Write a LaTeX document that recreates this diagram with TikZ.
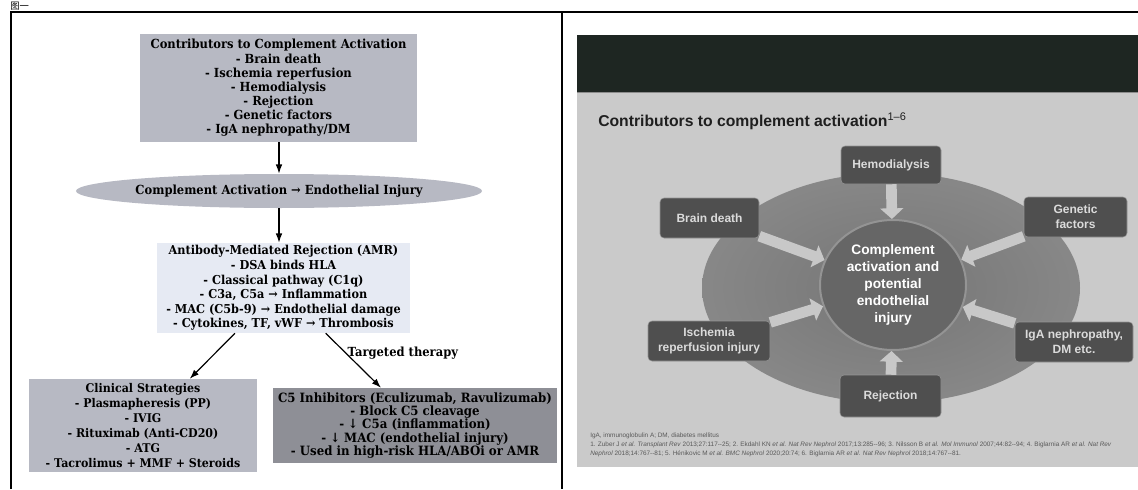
\documentclass[tikz,border=0pt]{standalone}
\usepackage{fontspec}
\setmainfont{DejaVu Serif}
\newfontfamily\flowfont[FakeStretch=0.92]{DejaVu Serif}
\newfontfamily\slidefont{Liberation Sans}
\newfontfamily\cjkfont{Noto Sans CJK SC}
\usetikzlibrary{arrows.meta,positioning,shapes.geometric}

\definecolor{boxgray}{HTML}{B7B9C3}
\definecolor{amrblue}{HTML}{E6EAF3}
\definecolor{inhgray}{HTML}{8E8F96}
\definecolor{bandgreen}{HTML}{1E2622}
\definecolor{slidegray}{HTML}{CACACA}
\definecolor{tilegray}{HTML}{4F4F4F}
\definecolor{spokegray}{HTML}{C8C8C8}

\pgfdeclareradialshading{halo}{\pgfpoint{0bp}{0bp}}{%
  color(0bp)=(black!54); color(28bp)=(black!46); color(42bp)=(black!37); color(50bp)=(black!26)}

\begin{document}
\begin{tikzpicture}[
  x=0.75pt, y=-0.75pt,
  flow/.style={font=\flowfont\bfseries\fontsize{9.4}{10.6}\selectfont, align=center, inner sep=0pt},
  cbox/.style={flow, fill=boxgray},
  arr/.style={-{Latex[length=7pt, width=5pt]}, line width=0.9pt, draw=black},
  lab/.style={flow, inner sep=1pt},
  tile/.style={draw=black!42, fill=tilegray, rounded corners=3pt, text=white!86!black,
               font=\slidefont\bfseries\fontsize{9}{11}\selectfont, align=center, inner sep=0pt},
  hub/.style={ellipse, fill=black!60, draw=black!42, line width=1.5pt, text=white,
              font=\slidefont\bfseries\fontsize{10.3}{12.8}\selectfont, align=center, inner sep=0pt},
  spoke/.style={draw=spokegray, line width=8pt, -{Triangle[length=8pt 0 0, width=17pt 0 0]}}
]
\useasboundingbox (0,0) rectangle (1138,489);

% ---------------- caption and frame ----------------
\node[anchor=west, font=\cjkfont\fontsize{7}{8}\selectfont, inner sep=0pt] (fig) at (10,6) {图一};
\draw[line width=1.2pt] (11,489) -- (11,12) -- (1138,12);
\draw[line width=1.2pt] (562,12) -- (562,489);

% ---------------- left: flow chart ----------------
\node[cbox, minimum width=207.75pt, minimum height=81pt] (contrib) at (278.5,88)
  {Contributors to Complement Activation\\- Brain death\\- Ischemia reperfusion\\- Hemodialysis\\- Rejection\\- Genetic factors\\- IgA nephropathy/DM};
\node[cbox, ellipse, minimum width=302pt, minimum height=25.5pt] (cact) at (279,191)
  {Complement Activation → Endothelial Injury};
\node[flow, fill=amrblue, minimum width=189.75pt, minimum height=67.5pt,
      font=\flowfont\bfseries\fontsize{9.2}{10.9}\selectfont] (amr) at (283.5,288)
  {Antibody-Mediated Rejection (AMR)\\- DSA binds HLA\\- Classical pathway (C1q)\\- C3a, C5a → Inflammation\\- MAC (C5b-9) → Endothelial damage\\- Cytokines, TF, vWF → Thrombosis};
\node[cbox, minimum width=171pt, minimum height=69.75pt,
      font=\flowfont\bfseries\fontsize{9}{11.2}\selectfont] (clin) at (143,425.5)
  {Clinical Strategies\\- Plasmapheresis (PP)\\- IVIG\\- Rituximab (Anti-CD20)\\- ATG\\- Tacrolimus + MMF + Steroids};
\node[flow, fill=inhgray, minimum width=213pt, minimum height=56.25pt,
      font=\flowfont\bfseries\fontsize{9.6}{10}\selectfont] (c5) at (415,425.5)
  {C5 Inhibitors (Eculizumab, Ravulizumab)\\- Block C5 cleavage\\- ↓ C5a (inflammation)\\- ↓ MAC (endothelial injury)\\- Used in high-risk HLA/ABOi or AMR};

\draw[arr] (contrib.south -| cact) -- (cact.north);
\draw[arr] (cact.south) -- (cact.south |- amr.north);
\draw[arr] (amr.223) -- (clin.45);
\draw[arr] (amr.313) -- node[lab, pos=0.36, anchor=west] {Targeted therapy} (c5.132);

% ---------------- right: slide ----------------
\fill[bandgreen] (577,35) rectangle (1138,92);
\fill[slidegray] (577,92) rectangle (1138,467);
\draw[black!45, line width=1pt] (577,92.5) -- (1138,92.5);
\node[anchor=west, inner sep=0pt, text=black!88,
      font=\slidefont\bfseries\fontsize{11.8}{13}\selectfont] (title) at (598,121)
  {Contributors to complement activation\textsuperscript{\mdseries 1–6}};

\shade[shading=halo] (891,288) ellipse [x radius=189, y radius=115];

\node[hub, minimum width=109.5pt, minimum height=97.5pt] (core) at (893,285)
  {Complement\\activation and\\potential\\endothelial\\injury};
\node[tile, minimum width=75pt, minimum height=28.5pt] (hemo) at (891,165) {Hemodialysis};
\node[tile, minimum width=74.25pt, minimum height=30pt] (brain) at (709.5,218) {Brain death};
\node[tile, minimum width=77.25pt, minimum height=30pt] (gene) at (1075.5,217) {Genetic\\factors};
\node[tile, minimum width=91.5pt, minimum height=30pt] (isch) at (709,341) {Ischemia\\reperfusion injury};
\node[tile, minimum width=88.5pt, minimum height=30pt] (iga) at (1074,342) {IgA nephropathy,\\DM etc.};
\node[tile, minimum width=75.75pt, minimum height=31.5pt] (rej) at (890.5,396) {Rejection};

\draw[spoke] (hemo) -- (core);
\draw[spoke] (brain) -- (core);
\draw[spoke] (gene) -- (core);
\draw[spoke] (isch) -- (core);
\draw[spoke] (iga) -- (core);
\draw[spoke] (rej) -- (core);

\node[anchor=north west, align=left, inner sep=0pt, text=black!65,
      font=\slidefont\fontsize{4.8}{6.6}\selectfont] (notes) at (590,433)
  {IgA, immunoglobulin A; DM, diabetes mellitus\\
   1. Zuber J \textit{et al. Transplant Rev} 2013;27:117--25; 2. Ekdahl KN \textit{et al. Nat Rev Nephrol} 2017;13:285--96; 3. Nilsson B \textit{et al. Mol Immunol} 2007;44:82--94; 4. Biglarnia AR \textit{et al. Nat Rev}\\
   \textit{Nephrol} 2018;14:767--81; 5. Hénikovic M \textit{et al. BMC Nephrol} 2020;20:74; 6. Biglarnia AR \textit{et al. Nat Rev Nephrol} 2018;14:767--81.};

\end{tikzpicture}
\end{document}
